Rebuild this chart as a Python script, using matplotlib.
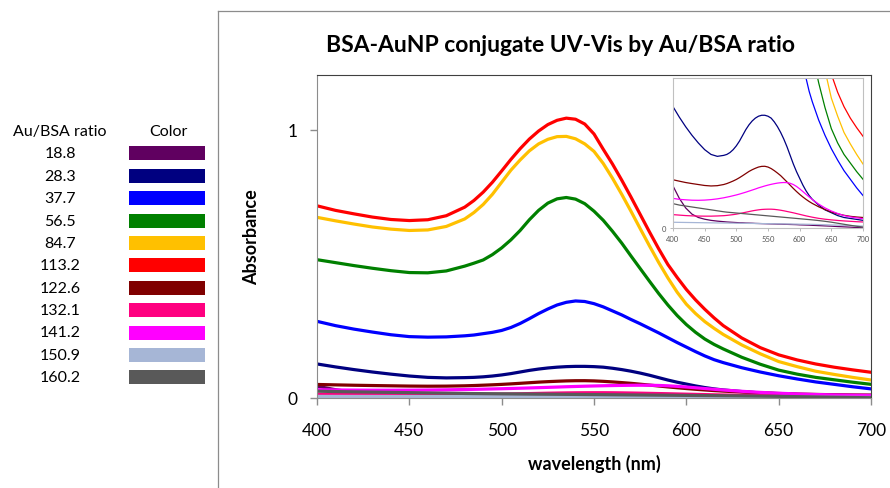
import matplotlib
matplotlib.use("Agg")
from matplotlib import pyplot as plt
from matplotlib.lines import Line2D
from matplotlib.patches import Rectangle

plt.rcParams['font.family'] = ['Lato', 'DejaVu Sans']

# wavelengths (nm) shared by every spectrum
wl = [400, 410, 420, 430, 440, 450, 460, 470,
      480, 485, 490, 495, 500, 505, 510, 515, 520, 525, 530, 535, 540, 545, 550,
      555, 560, 565, 570, 575, 580, 585, 590, 595, 600, 605, 610, 615, 620,
      630, 640, 650, 660, 670, 680, 690, 700]

ratios = ["18.8", "28.3", "37.7", "56.5", "84.7", "113.2",
          "122.6", "132.1", "141.2", "150.9", "160.2"]
colors = ["#600060", "#000080", "#0000ff", "#008000", "#ffc000", "#ff0000",
          "#800000", "#ff0080", "#ff00ff", "#a6b6d6", "#595959"]

abs_18_8 = [.044, .031, .021, .0145, .011, .0092, .008, .0072,
            .0066, .0063, .0061, .0059, .0057, .0055, .0054, .0052, .0051, .005, .0048, .0047, .0046, .0045, .0044,
            .0043, .0042, .0041, .004, .0039, .0038, .0037, .0036, .0035, .0033, .0032, .0031, .003, .0028,
            .0025, .0022, .0019, .0015, .0012, .0009, .0005, .0002]
abs_28_3 = [.127, .116, .106, .097, .089, .082, .077, .075,
            .076, .077, .079, .082, .086, .091, .097, .103, .108, .112, .115, .117, .118, .118, .117,
            .115, .111, .106, .100, .093, .085, .076, .067, .059, .052, .045, .039, .034, .030,
            .024, .019, .016, .013, .011, .010, .009, .008]
abs_37_7 = [.286, .270, .257, .246, .236, .229, .227, .228,
            .232, .235, .240, .245, .252, .263, .278, .296, .315, .332, .347, .357, .362, .360, .352,
            .340, .325, .310, .293, .277, .260, .243, .225, .207, .190, .173, .157, .143, .132,
            .113, .097, .083, .071, .060, .051, .042, .034]
abs_56_5 = [.516, .505, .494, .484, .475, .468, .467, .474,
            .492, .503, .515, .535, .560, .590, .625, .665, .700, .727, .743, .748, .742, .725, .697,
            .663, .622, .578, .530, .483, .436, .390, .347, .308, .274, .245, .220, .200, .183,
            .152, .126, .104, .089, .077, .068, .059, .051]
abs_84_7 = [.674, .661, .649, .638, .630, .625, .627, .640,
            .668, .692, .722, .760, .805, .850, .888, .922, .948, .965, .975, .976, .967, .948, .920,
            .875, .820, .760, .697, .632, .568, .506, .448, .395, .350, .315, .285, .260, .237,
            .198, .165, .136, .117, .100, .088, .077, .067]
abs_113_2 = [.717, .700, .687, .675, .666, .662, .665, .680,
             .712, .737, .768, .805, .847, .890, .930, .966, .996, 1.020, 1.036, 1.044, 1.040, 1.022, .985,
             .928, .873, .813, .750, .685, .620, .557, .498, .450, .405, .366, .331, .299, .270,
             .224, .188, .161, .142, .127, .115, .105, .096]
abs_122_6 = [.0505, .049, .0476, .0465, .0455, .0445, .044, .0443,
             .0455, .0465, .0478, .0492, .0508, .0527, .0548, .057, .0592, .061, .0625, .0638, .0645, .0646, .0638,
             .0622, .060, .0575, .0548, .0515, .0482, .0448, .0414, .0382, .0352, .0325, .030, .0277, .0257,
             .0222, .0193, .0168, .0148, .0133, .0122, .0115, .011]
abs_132_1 = [.014, .0135, .013, .0127, .0125, .0124, .0124, .0126,
             .0129, .0132, .0136, .014, .0145, .0151, .0158, .0165, .0172, .0179, .0185, .019, .0194, .0196, .0197,
             .0197, .0195, .0191, .0186, .018, .0173, .0166, .0159, .0151, .0143, .0135, .0127, .012, .0113,
             .0101, .0092, .0085, .0079, .0074, .007, .0066, .0063]
abs_141_2 = [.031, .030, .0295, .0291, .029, .0292, .0297, .0305,
             .0316, .0323, .033, .0338, .0346, .0355, .0365, .0375, .0386, .0397, .0408, .042, .043, .044, .0449,
             .0457, .0464, .047, .0474, .0476, .0475, .0468, .0455, .0435, .041, .0382, .0353, .0325, .0298,
             .025, .021, .0178, .0152, .013, .0116, .0106, .0098]
abs_150_9 = [.006, .0059, .0058, .0057, .0056, .0055, .0054, .0053,
             .0052, .0052, .0051, .0051, .005, .005, .0049, .0049, .0048, .0048, .0047, .0047, .0046, .0046, .0045,
             .0045, .0044, .0044, .0043, .0043, .0042, .0042, .0041, .0041, .004, .004, .0039, .0039, .0038,
             .0036, .0034, .0032, .003, .0028, .0026, .0023, .002]
abs_160_2 = [.0255, .024, .023, .022, .021, .020, .019, .018,
             .017, .0166, .0163, .016, .0157, .0154, .0151, .0148, .0145, .0142, .0139, .0136, .0133, .013, .0127,
             .0124, .0121, .0118, .0115, .0112, .0109, .0106, .0103, .010, .0097, .0094, .0091, .0088, .0085,
             .0078, .007, .0061, .005, .0039, .0028, .0018, .001]

spectra = [abs_18_8, abs_28_3, abs_37_7, abs_56_5, abs_84_7, abs_113_2,
           abs_122_6, abs_132_1, abs_141_2, abs_150_9, abs_160_2]

W, H = 890, 489
fig = plt.figure(figsize=(W / 100, H / 100), dpi=100)

# excel-ish chart border
fig.add_artist(Line2D([218 / W, 218 / W], [0, 1 - 12 / H], color="#8c8c8c", lw=0.9))
fig.add_artist(Line2D([218 / W, 1], [1 - 12 / H, 1 - 12 / H], color="#8c8c8c", lw=0.9))

# colour table on the left
fig.text(60 / W, 1 - 132 / H, "Au/BSA ratio", ha="center", va="center", fontsize=11.5)
fig.text(168 / W, 1 - 132 / H, "Color", ha="center", va="center", fontsize=11.5)
for i, (lab, c) in enumerate(zip(ratios, colors)):
    yc = 154.3 + i * 22.4
    fig.text(60 / W, 1 - yc / H, lab, ha="center", va="center", fontsize=11.5)
    fig.add_artist(Rectangle((129 / W, 1 - (yc + 7) / H), 76 / W, 14 / H,
                             facecolor=c, edgecolor="none"))

# main plot
ax = fig.add_axes([317 / W, 1 - 399 / H, 554 / W, 323 / H])
for ys, c in zip(spectra, colors):
    ax.plot(wl, ys, color=c, lw=2.3, solid_joinstyle="round")
ax.set_xlim(400, 700)
ax.set_ylim(0, 1.205)
ax.set_xticks([400, 450, 500, 550, 600, 650, 700])
ax.set_yticks([0, 1])
ax.tick_params(direction="out", length=5, width=1, color="#8c8c8c", labelsize=12.5)
ax.tick_params(axis="x", pad=12)
ax.tick_params(axis="y", pad=9)
for side in ["left", "bottom"]:
    ax.spines[side].set_color("#8c8c8c")
for side in ["top", "right"]:
    ax.spines[side].set_color("#404040")
ax.set_xlabel("wavelength (nm)", fontsize=13, fontweight="bold", labelpad=12)
ax.set_ylabel("Absorbance", fontsize=13, fontweight="bold", labelpad=20)
ax.set_title("BSA-AuNP conjugate UV-Vis by Au/BSA ratio", fontsize=16.5,
             fontweight="bold", pad=17, x=0.44)

# zoomed inset of the low curves
ins = fig.add_axes([673 / W, 1 - 229 / H, 190 / W, 150 / H])
for ys, c in zip(spectra, colors):
    ins.plot(wl, ys, color=c, lw=0.9)
ins.set_xlim(400, 700)
ins.set_ylim(0, 0.157)
ins.set_xticks([400, 450, 500, 550, 600, 650, 700])
ins.set_yticks([0])
ins.tick_params(direction="out", length=2, width=0.6, color="#b0b0b0",
                labelsize=5.5, labelcolor="#555555", pad=3)
for s in ins.spines.values():
    s.set_color("#c0c0c0")
    s.set_linewidth(0.8)

fig.savefig("out.png", dpi=100)
